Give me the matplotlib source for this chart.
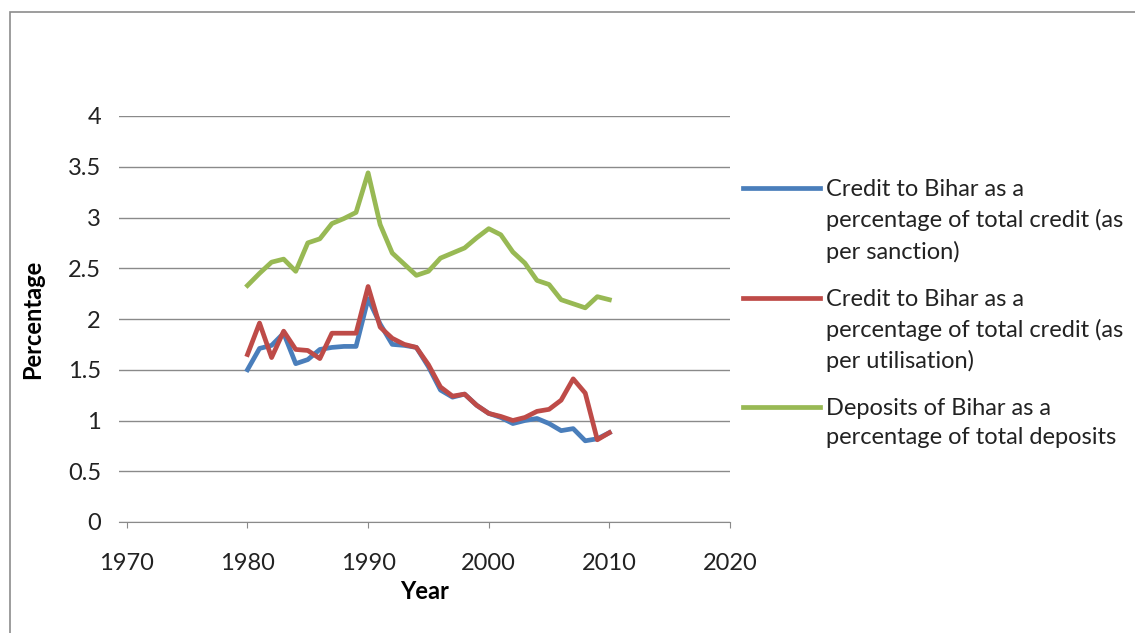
import matplotlib
matplotlib.use("Agg")
import matplotlib.pyplot as plt
from matplotlib.patches import Rectangle
from matplotlib.lines import Line2D
from matplotlib.legend_handler import HandlerLine2D

# Jahre und Werte
years = list(range(1980, 2011))

credit_sanction = [1.50, 1.71, 1.74, 1.86, 1.56, 1.60, 1.70, 1.72, 1.73, 1.73,
                   2.20, 1.95, 1.75, 1.74, 1.72, 1.53, 1.30, 1.23, 1.26, 1.15,
                   1.07, 1.03, 0.97, 1.00, 1.02, 0.97, 0.90, 0.92, 0.80, 0.82,
                   0.88]

credit_utilisation = [1.65, 1.96, 1.62, 1.88, 1.70, 1.69, 1.61, 1.86, 1.86, 1.86,
                      2.32, 1.92, 1.81, 1.75, 1.72, 1.55, 1.33, 1.24, 1.26, 1.15,
                      1.07, 1.04, 1.00, 1.03, 1.09, 1.11, 1.20, 1.41, 1.27, 0.81,
                      0.88]

deposits = [2.33, 2.45, 2.56, 2.59, 2.47, 2.75, 2.79, 2.94, 2.99, 3.05,
            3.44, 2.93, 2.65, 2.54, 2.43, 2.47, 2.60, 2.65, 2.70, 2.80,
            2.89, 2.83, 2.66, 2.55, 2.38, 2.34, 2.19, 2.15, 2.11, 2.22,
            2.19]

labels = [
    "Credit to Bihar as a\npercentage of total credit (as\nper sanction)",
    "Credit to Bihar as a\npercentage of total credit (as\nper utilisation)",
    "Deposits of Bihar as a\npercentage of total deposits",
]
colors = ["#4A7EBB", "#BE4B48", "#98B954"]

x_ticks = [1970, 1980, 1990, 2000, 2010, 2020]
y_ticks = [0, 0.5, 1, 1.5, 2, 2.5, 3, 3.5, 4]
y_tick_labels = ["0", "0.5", "1", "1.5", "2", "2.5", "3", "3.5", "4"]


class TopLineHandler(HandlerLine2D):
    """Legendenlinie an der ersten Textzeile ausrichten."""
    def __init__(self, shift, **kw):
        super().__init__(**kw)
        self.shift = shift

    def create_artists(self, legend, orig_handle, xdescent, ydescent,
                       width, height, fontsize, trans):
        return super().create_artists(legend, orig_handle, xdescent,
                                      ydescent - 2 * self.shift, width, height,
                                      fontsize, trans)


plt.rcParams["font.family"] = ["Lato", "DejaVu Sans"]
fs = 17

fig = plt.figure(figsize=(11.35, 6.33), dpi=100)
ax = fig.add_axes([119 / 1135, 1 - 522 / 633, (730 - 119) / 1135, (522 - 116) / 633])

# Rahmen um das Diagramm
fig.patches.append(Rectangle((10 / 1135, -0.1), 1.2, 1 - 12 / 633 + 0.1,
                             transform=fig.transFigure, fill=False,
                             edgecolor="#8c8c8c", linewidth=1.2))

ax.plot(years, credit_sanction, color=colors[0], linewidth=3.4)
ax.plot(years, credit_utilisation, color=colors[1], linewidth=3.4)
ax.plot(years, deposits, color=colors[2], linewidth=3.4)

ax.set_xlim(1969.35, 2020)
ax.set_ylim(0, 4)
ax.set_xticks(x_ticks)
ax.set_yticks(y_ticks)
ax.set_yticklabels(y_tick_labels)
ax.grid(axis="y", color="#8a8a8a", linewidth=1)
ax.set_axisbelow(True)

for side in ["top", "right", "left"]:
    ax.spines[side].set_visible(False)
ax.spines["bottom"].set_color("#8a8a8a")
ax.tick_params(axis="x", direction="out", length=4.5, color="#8a8a8a",
               labelsize=fs, pad=18, labelcolor="#222222")
ax.tick_params(axis="y", length=0, labelsize=fs, pad=13, labelcolor="#222222")

ax.set_xlabel("Year", fontsize=fs, fontweight="bold", labelpad=4)
ax.set_ylabel("Percentage", fontsize=fs, fontweight="bold", labelpad=17)

handles = [Line2D([], [], color=c, linewidth=3.4) for c in colors]
leg = fig.legend(handles, labels, loc="upper left",
                 bbox_to_anchor=(722 / 1135, 1 - 158 / 633),
                 frameon=False, fontsize=fs, handlelength=3.26,
                 handletextpad=0.25, labelspacing=1.1,
                 handler_map={handles[0]: TopLineHandler(23.5),
                              handles[1]: TopLineHandler(23.5),
                              handles[2]: TopLineHandler(11.7)})
for t in leg.get_texts():
    t.set_linespacing(1.5)
    t.set_color("#222222")

fig.savefig("out.png", dpi=100)
